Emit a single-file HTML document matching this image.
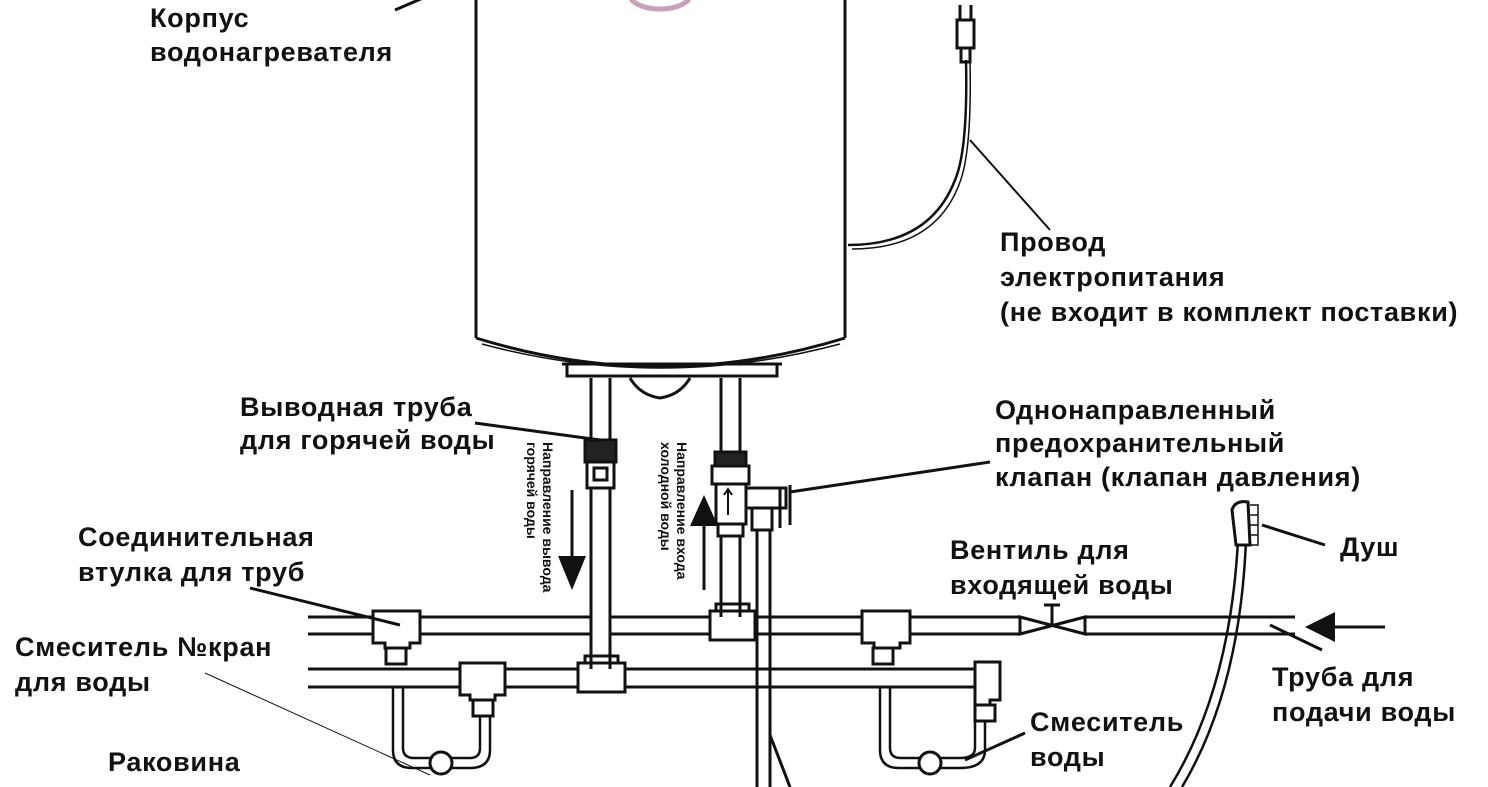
<!DOCTYPE html>
<html><head><meta charset="utf-8"><style>
html,body{margin:0;padding:0;background:#fff}
svg{display:block}
text{font-family:"Liberation Sans",Arial,sans-serif;fill:#111}
.l{font-size:27px;font-weight:bold;letter-spacing:0.7px}
.s{font-size:14px;font-weight:bold}
</style></head><body>
<svg width="1488" height="787" viewBox="0 0 1488 787" xmlns="http://www.w3.org/2000/svg">
<g fill="none" stroke="#111" stroke-width="3">
<ellipse cx="660" cy="-5" rx="30" ry="14" stroke="#c9a0b8" stroke-width="5"/>
<path d="M476 0 V338 M845 0 V338"/>
<path d="M476 338 Q660 395 845 338"/>
<path d="M482 344 Q660 392 840 344" stroke-width="1.5"/>
<path d="M562 364 H782 M567 364 V376 H777 V364" />
<path d="M630 378 Q640 395 660 398 Q680 395 690 378"/>
<path d="M848 245 Q930 245 955 180 Q968 150 966 60" stroke-width="2.5"/>
<path d="M852 249 Q936 249 960 182 Q972 150 970 60" stroke-width="1.5"/>
<path d="M957 20 h17 v28 h-17 z M961 48 h9 v14 h-9z M960 5 v15 M971 5 v15"/>
<path d="M591 378 V669 M610 378 V669"/>
<rect x="585" y="440" width="31" height="22" fill="#222"/>
<rect x="587" y="462" width="27" height="26" fill="#fff"/>
<rect x="594" y="468" width="13" height="12"/>
<path d="M721 378 V617 M740 378 V617"/>
<rect x="715" y="452" width="31" height="14" fill="#222"/>
<rect x="712" y="466" width="37" height="18" fill="#fff"/>
<rect x="716" y="484" width="30" height="40" fill="#fff"/>
<rect x="718" y="524" width="25" height="12" fill="#fff"/>
<path d="M728 490 v25 m-4 -20 l4 -6 4 6" stroke-width="2"/>
<rect x="746" y="488" width="40" height="20" fill="#fff"/>
<path d="M780 488 v40 M790 485 v40" stroke-width="3"/>
<rect x="752" y="508" width="20" height="22" fill="#fff"/>
<path d="M757 530 V787 M770 530 V787"/>
<path d="M308 617 H373 M420 617 H591 M610 617 H710 M755 617 H862 M910 617 H1020 M1085 617 H1295"/>
<path d="M308 634 H373 M420 634 H591 M610 634 H710 M755 634 H862 M910 634 H1020 M1085 634 H1295"/>
<path d="M373 611 H420 V643 H410 V648 H385 V643 H373 Z" fill="#fff"/>
<path d="M710 611 H755 V640 H710 Z M716 611 V604 H749 V611"/>
<path d="M862 611 H910 V643 H900 V648 H874 V643 H862 Z" fill="#fff"/>
<path d="M1020 617 V634 L1085 617 V634 Z"/>
<path d="M1052 625 V605 M1044 605 H1060"/>
<path d="M308 669 H460 M505 669 H578 M625 669 H975 M308 687 H460 M505 687 H578 M625 687 H975"/>
<path d="M460 663 H505 V695 H495 V700 H470 V695 H460 Z" fill="#fff"/>
<path d="M578 663 H625 V692 H578 Z M585 663 V656 H618 V663"/>
<path d="M975 662 H1000 V700 H990 V705 H975 Z"/>
<rect x="386" y="648" width="20" height="16"/>
<rect x="873" y="648" width="20" height="16"/>
<rect x="473" y="700" width="20" height="16"/>
<rect x="975" y="705" width="20" height="16"/>
<path d="M393 687 V750 Q393 768 412 768 H470 Q490 768 490 750 V716 M403 687 V748 Q403 758 414 758 H470 Q480 758 480 748 V716" stroke-width="2.5"/>
<circle cx="441" cy="763" r="11" fill="#fff"/>
<path d="M880 687 V750 Q880 768 899 768 H960 Q985 768 985 750 V721 M890 687 V748 Q890 758 901 758 H960 Q975 758 975 748 V721" stroke-width="2.5"/>
<circle cx="930" cy="763" r="11" fill="#fff"/>
<path d="M1170 787 Q1230 690 1238 540" stroke-width="2.5"/>
<path d="M1182 787 Q1240 690 1246 540" stroke-width="2.5"/>
<path d="M1236 545 L1232 510 Q1235 500 1248 502 L1250 545 Z" fill="#fff"/>
<path d="M1250 505 h8 v40 h-8 M1250 515 h8 M1250 525 h8 M1250 535 h8" stroke-width="1.5"/>
<path d="M1320 627 H1385"/>
<path d="M572 490 V560"/>
<path d="M704 525 V590"/>
<path d="M395 10 L430 -5"/>
<path d="M1050 230 L970 140" stroke-width="2"/>
<path d="M475 423 L600 440"/>
<path d="M990 462 L790 492"/>
<path d="M250 588 L400 625"/>
<path d="M1325 545 L1262 525"/>
<path d="M205 673 L430 775" stroke-width="1"/>
<path d="M1270 625 L1322 650"/>
<path d="M1025 733 L965 760"/>
<path d="M770 735 L790 787"/>
</g>
<g fill="#111">
<polygon points="1305,627 1335,612 1335,642"/>
<polygon points="558,556 586,556 572,590"/>
<polygon points="690,526 718,526 704,495"/>
</g>
<text class="l" x="150" y="27">Корпус</text>
<text class="l" x="150" y="61">водонагревателя</text>
<text class="l" x="1000" y="251">Провод</text>
<text class="l" x="1000" y="286">электропитания</text>
<text class="l" x="1000" y="321">(не входит в комплект поставки)</text>
<text class="l" x="240" y="416">Выводная труба</text>
<text class="l" x="240" y="449">для горячей воды</text>
<text class="l" x="995" y="419">Однонаправленный</text>
<text class="l" x="995" y="452">предохранительный</text>
<text class="l" x="995" y="486">клапан (клапан давления)</text>
<text class="l" x="78" y="546">Соединительная</text>
<text class="l" x="78" y="581">втулка для труб</text>
<text class="l" x="950" y="559">Вентиль для</text>
<text class="l" x="950" y="594">входящей воды</text>
<text class="l" x="1340" y="556">Душ</text>
<text class="l" x="15" y="656">Смеситель №кран</text>
<text class="l" x="15" y="691">для воды</text>
<text class="l" x="1272" y="686">Труба для</text>
<text class="l" x="1272" y="721">подачи воды</text>
<text class="l" x="108" y="771">Раковина</text>
<text class="l" x="1030" y="731">Смеситель</text>
<text class="l" x="1030" y="766">воды</text>
<text class="s" transform="translate(543,442) rotate(90)">Направление вывода</text>
<text class="s" transform="translate(527,442) rotate(90)">горячей воды</text>
<text class="s" transform="translate(677,442) rotate(90)">Направление входа</text>
<text class="s" transform="translate(661,442) rotate(90)">холодной воды</text>
</svg>
</body></html>
